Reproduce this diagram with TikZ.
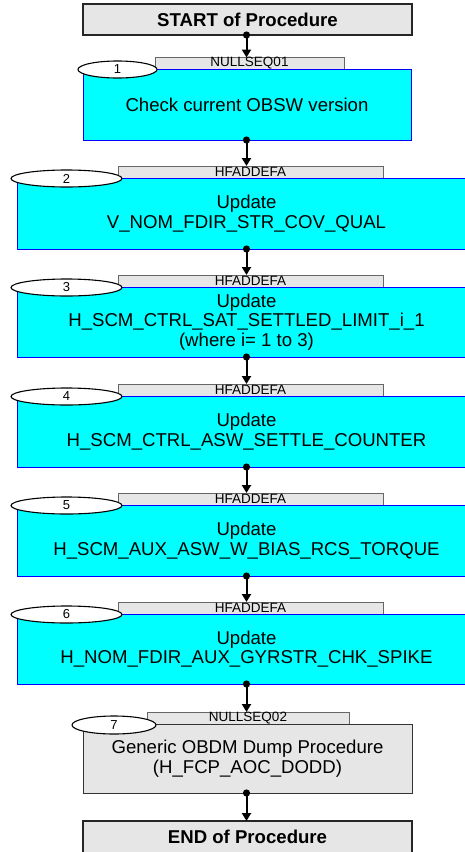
\documentclass[tikz,border=0pt]{standalone}
\usepackage{fontspec}
\setmainfont{Liberation Sans}
\usetikzlibrary{arrows.meta,shapes.geometric}
\definecolor{boxgray}{HTML}{E6E6E6}
\definecolor{cyanfill}{HTML}{00FFFF}
\definecolor{stepblue}{HTML}{0000FF}
\begin{document}
\begin{tikzpicture}[x=1pt,y=-1pt,
  graybox/.style={draw=black!85, line width=1.3pt, fill=boxgray, inner sep=0pt, outer sep=0pt,
    font=\fontsize{18.6}{20}\selectfont\bfseries},
  procbox/.style={draw=black!80, line width=1pt, fill=boxgray, inner sep=0pt, outer sep=0pt, align=center,
    font=\fontsize{18.6}{20}\selectfont},
  stepbox/.style={draw=stepblue, line width=1pt, fill=cyanfill, inner sep=0pt, outer sep=0pt, align=center,
    font=\fontsize{18.6}{19.5}\selectfont},
  tagbox/.style={draw=black!60, line width=0.8pt, fill=boxgray, inner sep=0pt, outer sep=0pt,
    minimum height=12pt, font=\fontsize{13.5}{12}\selectfont},
  numell/.style={ellipse, draw=black, line width=1.1pt, fill=white, inner sep=0pt, outer sep=0pt,
    font=\fontsize{13}{12}\selectfont},
  conn/.style={line width=2pt, -{Triangle[width=9pt,length=8pt]}},
  dot/.style={fill=black}
]
\clip (0,0) rectangle (465,852);
\coordinate (ax) at (246.5,0);

% START
\node[graybox, minimum width=329pt, minimum height=31pt] (start) at (247.5,19.5) {START of Procedure};

% Step 1
\node[tagbox, minimum width=189pt] (t1) at (249.5,63.5) {NULLSEQ01};
\node[stepbox, minimum width=328pt, minimum height=71pt] (s1) at (247,104.5) {Check current OBSW version};
\node[numell, minimum width=79pt, minimum height=17pt] (e1) at (117.5,69.5) {1};

% Step 2
\node[tagbox, minimum width=265pt] (t2) at (250.5,172) {HFADDEFA};
\node[stepbox, minimum width=459pt, minimum height=71pt] (s2) at (246.5,213.5) {Update\\V\_NOM\_FDIR\_STR\_COV\_QUAL};
\node[numell, minimum width=111pt, minimum height=17pt] (e2) at (66.5,178.5) {2};

% Step 3
\node[tagbox, minimum width=265pt] (t3) at (250.5,281) {HFADDEFA};
\node[stepbox, minimum width=459pt, minimum height=70pt] (s3) at (246.5,322) {Update\\H\_SCM\_CTRL\_SAT\_SETTLED\_LIMIT\_i\_1\\(where i= 1 to 3)};
\node[numell, minimum width=111pt, minimum height=17pt] (e3) at (66.5,287.5) {3};

% Step 4
\node[tagbox, minimum width=265pt] (t4) at (250.5,390) {HFADDEFA};
\node[stepbox, minimum width=459pt, minimum height=71pt] (s4) at (246.5,431.5) {Update\\H\_SCM\_CTRL\_ASW\_SETTLE\_COUNTER};
\node[numell, minimum width=111pt, minimum height=17pt] (e4) at (66.5,396.5) {4};

% Step 5
\node[tagbox, minimum width=265pt] (t5) at (250.5,499) {HFADDEFA};
\node[stepbox, minimum width=459pt, minimum height=71pt] (s5) at (246.5,540.5) {Update\\H\_SCM\_AUX\_ASW\_W\_BIAS\_RCS\_TORQUE};
\node[numell, minimum width=111pt, minimum height=17pt] (e5) at (66.5,505.5) {5};

% Step 6
\node[tagbox, minimum width=265pt] (t6) at (250.5,608) {HFADDEFA};
\node[stepbox, minimum width=459pt, minimum height=70pt] (s6) at (246.5,649) {Update\\H\_NOM\_FDIR\_AUX\_GYRSTR\_CHK\_SPIKE};
\node[numell, minimum width=111pt, minimum height=17pt] (e6) at (66.5,614.5) {6};

% Step 7
\node[tagbox, minimum width=202pt] (t7) at (248,718) {NULLSEQ02};
\node[procbox, minimum width=329pt, minimum height=69pt] (s7) at (247.5,758.5) {Generic OBDM Dump Procedure\\(H\_FCP\_AOC\_DODD)};
\node[numell, minimum width=84pt, minimum height=18pt] (e7) at (114,725) {7};

% END
\node[graybox, minimum width=329pt, minimum height=32pt] (end) at (247.5,837) {END of Procedure};

% connectors
\foreach \a/\b in {start/t1, s1/t2, s2/t3, s3/t4, s4/t5, s5/t6, s6/t7, s7/end} {
  \draw[conn] (\a.south -| ax) -- (\b.north -| ax);
  \fill[dot] (\a.south -| ax) circle (3.6pt);
}
\end{tikzpicture}
\end{document}
